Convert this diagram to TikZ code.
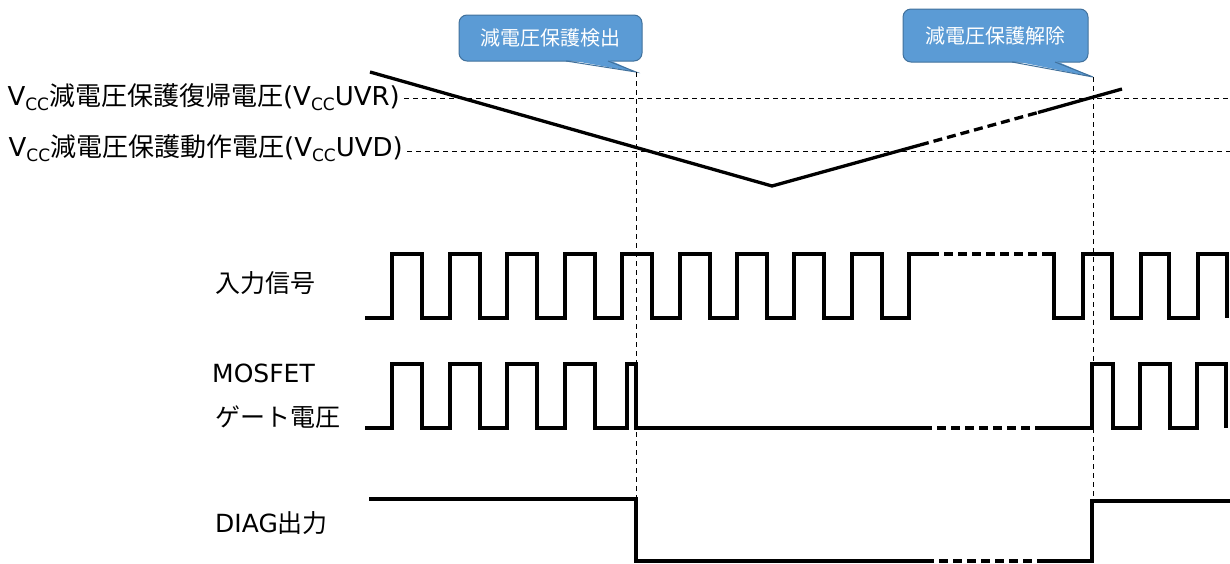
\documentclass[tikz,border=0pt]{standalone}
\usepackage{fontspec}
\setmainfont{DejaVu Sans}
\newfontfamily\jp{Noto Sans CJK JP}
\newcommand\jt[1]{{\jp #1}}
\newcommand\ccsub{\raisebox{-0.35ex}{\fontsize{17}{17}\selectfont CC}}
\definecolor{cfill}{HTML}{5B9BD5}
\definecolor{cedge}{HTML}{41719C}
\begin{document}
\begin{tikzpicture}[x=1pt,y=-1pt,
  wave/.style={line width=3.3pt},
  wavedash/.style={line width=3.3pt, dash pattern=on 9pt off 5pt},
  guide/.style={line width=0.9pt, dash pattern=on 5pt off 4pt},
  lbl/.style={font=\fontsize{25}{30}\selectfont, inner sep=0pt},
  vlbl/.style={font=\fontsize{26}{30}\selectfont, inner sep=0pt},
  cbox/.style={fill=cfill, draw=cedge, line width=1pt, rounded corners=8pt,
    text=white, font=\jp\fontsize{20}{22}\selectfont, inner sep=0pt},
  ctail/.style={fill=cfill},
  ctailedge/.style={draw=cedge, line width=1pt}
]
\useasboundingbox (0,0) rectangle (1230,563);

% callouts
\node[cbox, minimum width=183pt, minimum height=46pt] (c1) at (550.5,38) {減電圧保護検出};
\coordinate (t1) at (636,72);
\fill[ctail] (566,59.5) -- (t1) -- (608,59.5) -- cycle;
\draw[ctailedge] (566,61) -- (t1) -- (608,61);

\node[cbox, minimum width=185pt, minimum height=53pt] (c2) at (995.5,35.5) {減電圧保護解除};
\coordinate (t2) at (1093,77);
\fill[ctail] (1012,60.5) -- (t2) -- (1055,60.5) -- cycle;
\draw[ctailedge] (1012,62) -- (t2) -- (1055,62);

% vertical guides
\coordinate (b1) at (636,499);
\coordinate (b2) at (1093,501);
\draw[guide] (t1) -- (b1);
\draw[guide] (t2) -- (b2);

% threshold labels and lines
\node[vlbl, anchor=east] (uvr) at (400,97) {V\ccsub\jt{減電圧保護復帰電圧}(V\ccsub UVR)};
\node[vlbl, anchor=east] (uvd) at (403,148) {V\ccsub\jt{減電圧保護動作電圧}(V\ccsub UVD)};
\coordinate (uvrR) at (1230,98);
\coordinate (uvdR) at (1230,151);
\draw[guide] (uvr.east |- uvrR) ++(4,0) -- (uvrR);
\draw[guide] (uvd.east |- uvdR) ++(4,0) -- (uvdR);

% VCC voltage
\draw[wave] (370,72) -- (772,186) -- (920,145);
\draw[wavedash] (920,145) -- (1038,112.5);
\draw[wave] (1038,112.5) -- (1122,89);

% signal labels
\node[lbl, anchor=west] (inp) at (215,283) {\jt{入力信号}};
\node[lbl, anchor=west] (mos) at (212,373) {MOSFET};
\node[lbl, anchor=west] (gate) at (215,417) {\jt{ゲート電圧}};
\node[lbl, anchor=west] (diag) at (215,523) {DIAG\jt{出力}};

% input signal
\draw[wave] (365,318) foreach \r in {392,450,507,565,622,680,737,794,852} { -- (\r,318) -- (\r,254) -- ({\r+30},254) -- ({\r+30},318) } -- (909,318) -- (909,254) -- (930,254);
\draw[wavedash] (930,254) -- (1045,254);
\draw[wave] (1045,254) -- (1054,254) -- (1054,318) -- (1083,318) -- (1083,254) -- (1112,254) -- (1112,318) -- (1141,318) -- (1141,254) -- (1169,254) -- (1169,318) -- (1198,318) -- (1198,254) -- (1227,254) -- (1227,318);

% gate voltage
\draw[wave] (365,428) foreach \r in {392,450,507,565} { -- (\r,428) -- (\r,364) -- ({\r+30},364) -- ({\r+30},428) } -- (627,428) -- (627,364) -- (636,364) -- (636,428) -- (923,428);
\draw[wavedash] (923,428) -- (1040,428);
\draw[wave] (1040,428) -- (1092,428) -- (1092,364) -- (1113,364) -- (1113,428) -- (1140,428) -- (1140,364) -- (1170,364) -- (1170,428) -- (1197,428) -- (1197,364) -- (1226,364) -- (1226,428);

% DIAG output
\draw[wave] (369,499) -- (b1) -- (636,561) -- (925,561);
\draw[wavedash] (925,561) -- (1040,561);
\draw[wave] (1040,561) -- (1092,561) -- (1092,501) -- (1230,501);
\end{tikzpicture}
\end{document}
